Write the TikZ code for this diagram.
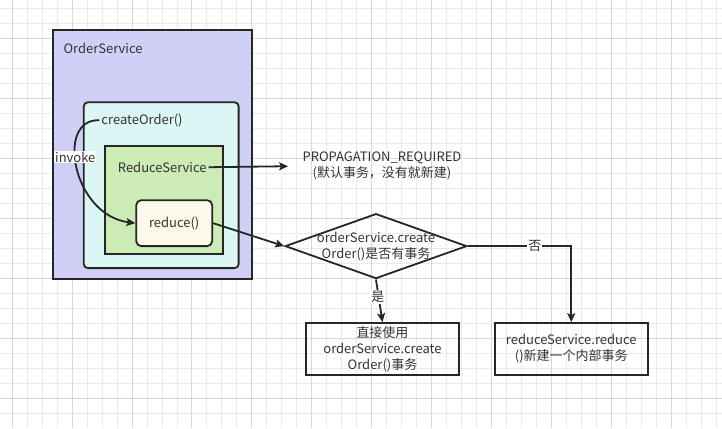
\documentclass[tikz,border=0pt]{standalone}
\usepackage{fontspec}
\setmainfont{Noto Sans CJK SC}
\usepackage{tikz}
\usetikzlibrary{arrows.meta, shapes.geometric}
\definecolor{lavender}{RGB}{208, 208, 247}
\definecolor{aqua}{RGB}{220, 246, 246}
\definecolor{leaf}{RGB}{205, 235, 180}
\definecolor{cream}{RGB}{251, 250, 234}
\definecolor{ink}{RGB}{38, 38, 38}
\definecolor{textgrey}{RGB}{51, 51, 51}
\definecolor{gridminor}{RGB}{234, 234, 234}
\definecolor{gridmajor}{RGB}{216, 216, 216}
\tikzset{
  box/.style={draw=ink, line width=1.8pt, inner sep=0pt},
  txt/.style={text=textgrey, font=\fontsize{13}{16}\selectfont, align=center, inner sep=2pt},
  tag/.style={txt, fill=white, inner sep=1pt},
  flow/.style={draw=ink, line width=1.8pt, -{Stealth[length=9pt, width=8pt, inset=2pt]}},
  decision/.style={draw=ink, line width=1.8pt, shape=diamond, inner sep=0pt, minimum width=182pt, minimum height=65pt}
}

\begin{document}
\begin{tikzpicture}[x=1pt, y=-1pt]

  \fill[white] (0, 0) rectangle (722, 428);

  \foreach \x in {11.7, 26.7, ..., 722} \draw[gridminor, line width=0.8pt] (\x, 0) -- (\x, 428);
  \foreach \y in {8.3, 23.3, ..., 428} \draw[gridminor, line width=0.8pt] (0, \y) -- (722, \y);
  \foreach \x in {11.7, 71.7, ..., 722} \draw[gridmajor, line width=0.8pt] (\x, 0) -- (\x, 428);
  \foreach \y in {38.3, 98.3, ..., 428} \draw[gridmajor, line width=0.8pt] (0, \y) -- (722, \y);

  \node (order) [box, fill=lavender, minimum width=199pt, minimum height=249pt] at (152.5, 154.5) {};
  \node (orderLabel) [txt, anchor=west] at (61, 48) {OrderService};

  \node (create) [box, fill=aqua, rounded corners=4pt, minimum width=155pt, minimum height=166pt] at (161, 185) {};
  \node (createLabel) [txt, anchor=west] at (99, 120) {createOrder()};

  \node (reduceSvc) [box, fill=leaf, minimum width=118pt, minimum height=108pt] at (164, 200) {};
  \node (reduceSvcLabel) [txt] at (162, 167) {ReduceService};

  \node (reduce) [box, txt, fill=cream, rounded corners=5pt, minimum width=76pt, minimum height=46pt] at (174, 223) {reduce()};

  \draw[flow] (createLabel.west) .. controls (55, 118) and (72, 215) .. (reduce.west);
  \node (invokeTag) [tag] at (75, 157) {invoke};

  \coordinate (propIn) at (288, 166);
  \draw[flow] (reduceSvcLabel.east) -- (propIn);
  \node (prop) [txt] at (382, 166) {PROPAGATION\_REQUIRED\\(默认事务，没有就新建)};

  \node (check) [decision] at (376, 246) {};
  \node (checkText) [txt] at (check.center) {orderService.create\\Order()是否有事务};
  \draw[flow] (reduce.east) -- (check.west);

  \node (direct) [box, txt, minimum width=153pt, minimum height=52pt] at (382.5, 349) {直接使用\\orderService.create\\Order()事务};
  \node (inner) [box, txt, minimum width=153pt, minimum height=52pt] at (571.5, 349) {reduceService.reduce\\()新建一个内部事务};

  \draw[flow] (check.south) -- (direct.north);
  \node (yesTag) [tag] at (378, 297) {是};
  \draw[flow] (check.east) -| (inner.north);
  \node (noTag) [tag] at (535, 246) {否};

\end{tikzpicture}
\end{document}
